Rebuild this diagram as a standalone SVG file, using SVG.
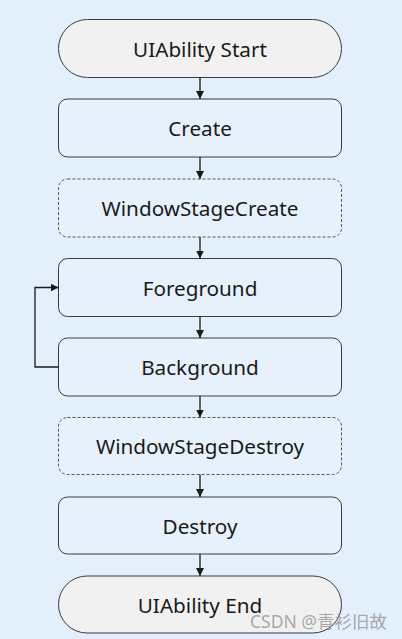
<svg xmlns="http://www.w3.org/2000/svg" width="402" height="639" viewBox="0 0 402 639">
<defs>
<marker id="ah" viewBox="0 0 8 8" refX="8" refY="4" markerWidth="8" markerHeight="8" markerUnits="userSpaceOnUse" orient="auto">
<path d="M0,0 L8,4 L0,8 Z" fill="#1a1a1a"/>
</marker>
<style>
.bg{fill:#e3effb}
.pill{fill:#f1f1f1;stroke:#3a3a3a;stroke-width:1}
.box{fill:#e6f1fc;stroke:#3a3a3a;stroke-width:1}
.dash{fill:#e6f1fc;stroke:#555;stroke-width:1;stroke-dasharray:3 2}
.t{font-family:"Noto Sans","Open Sans",sans-serif;font-size:20.7px;fill:#1a1a1a;text-anchor:middle;dominant-baseline:central}
.c{fill:none;stroke:#1a1a1a;stroke-width:1.3;marker-end:url(#ah)}
.wm{font-family:"Noto Sans","Noto Sans CJK SC",sans-serif;font-size:17.5px;fill:#9a9a9a;fill-opacity:0.85}
</style>
</defs>
<rect class="bg" x="0" y="0" width="402" height="639"/>
<g id="start"><rect class="pill" x="58.5" y="19.5" width="283" height="58" rx="29"/><text class="t" x="200" y="48.5">UIAbility Start</text></g>
<g id="create"><rect class="box" x="58.5" y="99" width="283" height="58" rx="9"/><text class="t" x="200" y="128">Create</text></g>
<g id="wscreate"><rect class="dash" x="58.5" y="179" width="283" height="58" rx="9"/><text class="t" x="200" y="208">WindowStageCreate</text></g>
<g id="foreground"><rect class="box" x="58.5" y="258.5" width="283" height="58" rx="9"/><text class="t" x="200" y="287.5">Foreground</text></g>
<g id="background"><rect class="box" x="58.5" y="338" width="283" height="58" rx="9"/><text class="t" x="200" y="367">Background</text></g>
<g id="wsdestroy"><rect class="dash" x="58.5" y="417.5" width="283" height="57" rx="9"/><text class="t" x="200" y="446">WindowStageDestroy</text></g>
<g id="destroy"><rect class="box" x="58.5" y="497" width="283" height="57" rx="9"/><text class="t" x="200" y="525.5">Destroy</text></g>
<g id="end"><rect class="pill" x="58.5" y="576" width="283" height="57" rx="28.5"/><text class="t" x="200" y="604.5">UIAbility End</text></g>
<g id="connectors">
<line class="c" x1="200" y1="77.5" x2="200" y2="99"/>
<line class="c" x1="200" y1="157" x2="200" y2="179"/>
<line class="c" x1="200" y1="237" x2="200" y2="258.5"/>
<line class="c" x1="200" y1="316.5" x2="200" y2="338"/>
<line class="c" x1="200" y1="396" x2="200" y2="417.5"/>
<line class="c" x1="200" y1="474.5" x2="200" y2="497"/>
<line class="c" x1="200" y1="554" x2="200" y2="576"/>
<polyline class="c" points="58.5,367 35,367 35,287.5 58.5,287.5"/>
</g>
<text class="wm" x="250" y="628">CSDN @青衫旧故</text>
</svg>
